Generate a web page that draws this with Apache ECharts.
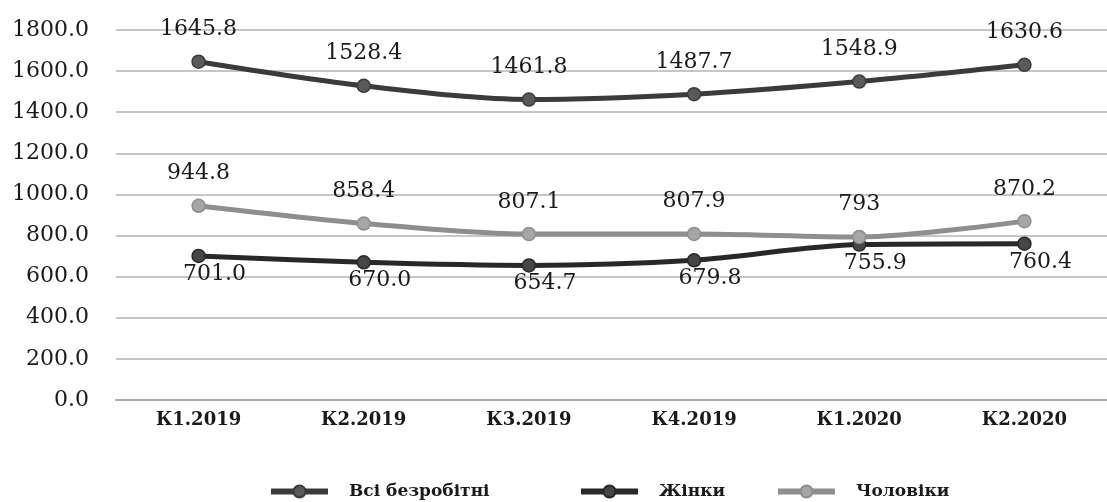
<!DOCTYPE html>
<html>
<head>
<meta charset="utf-8">
<script src="https://cdn.jsdelivr.net/npm/echarts@6/dist/echarts.min.js"></script>
<style>
html,body{margin:0;padding:0;background:#fff;}
#chart{width:1107px;height:502px;}
</style>
</head>
<body>
<div id="chart"></div>
<script>
const categories = ["К1.2019", "К2.2019", "К3.2019", "К4.2019", "К1.2020", "К2.2020"];
const allUnemployed = [1645.8, 1528.4, 1461.8, 1487.7, 1548.9, 1630.6];
const women = [701.0, 670.0, 654.7, 679.8, 755.9, 760.4];
const men = [944.8, 858.4, 807.1, 807.9, 793, 870.2];
const seriesNames = ["Всі безробітні", "Жінки", "Чоловіки"];

const serif = "'DejaVu Serif', 'Liberation Serif', serif";
const chart = echarts.init(document.getElementById('chart'), null, {renderer: 'canvas'});

function mkSeries(name, data, lineColor, markerColor, labelPos, labelOffset, fmt) {
  return {
    name: name,
    type: 'line',
    data: data,
    smooth: 0.3,
    symbol: 'circle',
    symbolSize: 13,
    lineStyle: {color: lineColor, width: 5},
    itemStyle: {color: markerColor, borderColor: lineColor, borderWidth: 1.5},
    label: {
      show: true,
      position: labelPos,
      distance: labelPos === 'top' ? 14 : 0,
      offset: labelOffset,
      fontFamily: serif,
      fontSize: 22,
      color: '#1a1a1a',
      formatter: fmt
    },
    emphasis: {disabled: true},
    z: 3
  };
}

const legendBase = {
  top: 478,
  itemWidth: 57,
  itemHeight: 15,
  lineStyle: {width: 6},
  textStyle: {fontFamily: serif, fontWeight: 'bold', fontSize: 17, color: '#1a1a1a', padding: [0, 0, 0, 16]},
  selectedMode: false
};

chart.setOption({
  animation: false,
  backgroundColor: '#ffffff',
  grid: {left: 116, top: 30, width: 1003, bottom: 102, containLabel: false},
  legend: [
    Object.assign({}, legendBase, {left: 263, data: [seriesNames[0]]}),
    Object.assign({}, legendBase, {left: 573, data: [seriesNames[1]]}),
    Object.assign({}, legendBase, {left: 770, data: [seriesNames[2]]})
  ],
  xAxis: {
    type: 'category',
    data: categories,
    boundaryGap: true,
    axisLine: {lineStyle: {color: '#a8a8a8', width: 2}},
    axisTick: {show: false},
    axisLabel: {fontFamily: serif, fontWeight: 'bold', fontSize: 18, color: '#1a1a1a', margin: 11}
  },
  yAxis: {
    type: 'value',
    min: 0,
    max: 1800,
    interval: 200,
    axisLine: {show: false},
    axisTick: {show: false},
    axisLabel: {fontFamily: serif, fontSize: 22, color: '#1a1a1a', margin: 27,
      formatter: v => v.toFixed(1)},
    splitLine: {lineStyle: {color: '#c6c6c6', width: 2}}
  },
  series: [
    mkSeries(seriesNames[0], allUnemployed, '#3b3b3b', '#5a5a5a', 'top', [0, 0], p => String(p.value)),
    mkSeries(seriesNames[1], women, '#282828', '#464646', 'bottom', [16, 0], p => p.value.toFixed(1)),
    mkSeries(seriesNames[2], men, '#8e8e8e', '#a6a6a6', 'top', [0, 0], p => String(p.value))
  ]
});
</script>
</body>
</html>
